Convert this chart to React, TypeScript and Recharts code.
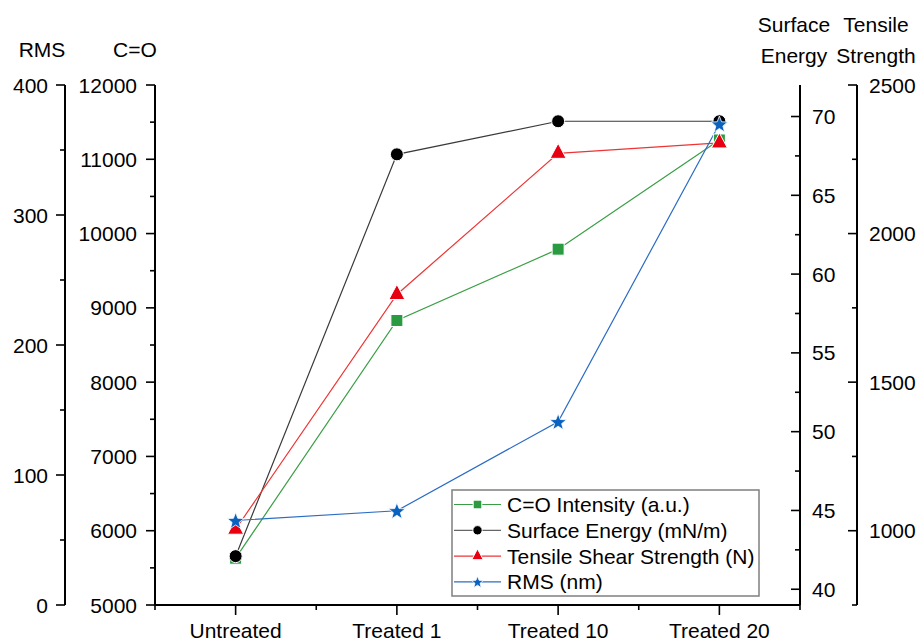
import React from 'react';
import { LineChart, Line, XAxis, YAxis, Legend } from 'recharts';

// ---- data ----
const categories = ['Untreated', 'Treated 1', 'Treated 10', 'Treated 20'];
const coIntensity = [5630, 8830, 9790, 11260];
const surfaceEnergy = [42.1, 67.6, 69.7, 69.7];
const tensileStrength = [1005, 1795, 2270, 2305];
const rmsValues = [65, 72.5, 141, 370];

// tick positions (majors get a label, the rest are minor ticks)
const xTicks = [0, 0.5, 1, 1.5, 2, 2.5, 3, 3.5, 4];
const rmsTicks = [0, 50, 100, 150, 200, 250, 300, 350, 400];
const coTicks = [5000, 5500, 6000, 6500, 7000, 7500, 8000, 8500, 9000, 9500, 10000, 10500, 11000, 11500, 12000];
const seTicks = [40, 42.5, 45, 47.5, 50, 52.5, 55, 57.5, 60, 62.5, 65, 67.5, 70];
const tsTicks = [750, 1000, 1250, 1500, 1750, 2000, 2250, 2500];

const FONT = "'Liberation Sans', Arial, sans-serif";
const FONT_SIZE = 21;

const SERIES = [
  { key: 'co', name: 'C=O Intensity (a.u.)', axis: 'a_co', line: '#3a9e45', fill: '#2b9b42', shape: 'square' },
  { key: 'se', name: 'Surface Energy (mN/m)', axis: 'c_se', line: '#3a3a3a', fill: '#000000', shape: 'circle' },
  { key: 'ts', name: 'Tensile Shear Strength (N)', axis: 'd_ts', line: '#ee3434', fill: '#e60012', shape: 'triangle' },
  { key: 'rms', name: 'RMS (nm)', axis: 'b_rms', line: '#2b6cc4', fill: '#0a62c0', shape: 'star' },
];

const chartData = categories.map((name, i) => ({
  name,
  x: i + 0.5,
  co: coIntensity[i],
  se: surfaceEnergy[i],
  ts: tensileStrength[i],
  rms: rmsValues[i],
}));

// ---- markers ----
function Marker({ cx, cy, shape, color, scale = 1 }: any) {
  if (cx == null || cy == null) return null;
  const s = scale;
  if (shape === 'square') {
    const h = 6 * s;
    return <rect x={cx - h} y={cy - h} width={2 * h} height={2 * h} fill={color} stroke="#fff" strokeWidth={1} />;
  }
  if (shape === 'circle') {
    return <circle cx={cx} cy={cy} r={6.5 * s} fill={color} stroke="#fff" strokeWidth={1} />;
  }
  if (shape === 'triangle') {
    const pts = `${cx},${cy - 10 * s} ${cx + 8 * s},${cy + 5 * s} ${cx - 8 * s},${cy + 5 * s}`;
    return <polygon points={pts} fill={color} stroke="#fff" strokeWidth={1} />;
  }
  // star
  const outer = 8.8 * s;
  const inner = 3.7 * s;
  const pts: string[] = [];
  for (let k = 0; k < 10; k++) {
    const r = k % 2 === 0 ? outer : inner;
    const a = -Math.PI / 2 + (k * Math.PI) / 5;
    pts.push(`${cx + r * Math.cos(a)},${cy + 0.8 * s + r * Math.sin(a)}`);
  }
  return <polygon points={pts.join(' ')} fill={color} stroke="#fff" strokeWidth={0.8} />;
}

const dotRenderer = (shape: string, color: string) => (props: any) => (
  <Marker key={`${shape}-${props.index}`} cx={props.cx} cy={props.cy} shape={shape} color={color} />
);

// ---- ticks ----
function YTick({ x, y, payload, major, labelSide, labelGap }: any) {
  const isMajor = Math.abs(payload.value % major) < 1e-9;
  const len = isMajor ? 9 : 5;
  return (
    <g>
      <line x1={x - len} y1={y} x2={x} y2={y} stroke="#000" strokeWidth={1.6} />
      {isMajor && (
        <text
          x={labelSide === 'left' ? x - labelGap : x + labelGap}
          y={y}
          dy="0.36em"
          textAnchor={labelSide === 'left' ? 'end' : 'start'}
          fontFamily={FONT}
          fontSize={FONT_SIZE}
          fill="#000"
        >
          {payload.value}
        </text>
      )}
    </g>
  );
}

function XTick({ x, y, payload }: any) {
  const isMajor = payload.value % 1 !== 0;
  return (
    <g>
      <line x1={x} y1={y} x2={x} y2={y + (isMajor ? 10 : 5)} stroke="#000" strokeWidth={1.6} />
      {isMajor && (
        <text x={x} y={y + 33} textAnchor="middle" fontFamily={FONT} fontSize={FONT_SIZE} fill="#000">
          {categories[Math.floor(payload.value)]}
        </text>
      )}
    </g>
  );
}

// axis titles sit above the axes
const titleLabel = (lines: string[], dx: number, baseOffsets: number[]) => ({ viewBox }: any) => (
  <g>
    {lines.map((t, i) => (
      <text
        key={t}
        x={viewBox.x + dx}
        y={viewBox.y - baseOffsets[i]}
        textAnchor="middle"
        fontFamily={FONT}
        fontSize={FONT_SIZE}
        fill="#000"
      >
        {t}
      </text>
    ))}
  </g>
);

function LegendBox() {
  return (
    <svg width={310} height={109} style={{ display: 'block' }}>
      <rect x={1} y={1} width={307} height={106} fill="#fff" stroke="#7f7f7f" strokeWidth={1.5} />
      {SERIES.map((s, i) => {
        const cy = 15.5 + i * 25.8;
        return (
          <g key={s.key}>
            <line x1={3} y1={cy} x2={50} y2={cy} stroke={s.key === 'se' ? '#666' : s.line} strokeWidth={1.2} />
            <Marker cx={26.5} cy={cy} shape={s.shape} color={s.fill} scale={0.72} />
            <text x={56} y={cy} dy="0.36em" fontFamily={FONT} fontSize={FONT_SIZE} fill="#000">
              {s.name}
            </text>
          </g>
        );
      })}
    </svg>
  );
}

const axisLine = { stroke: '#000', strokeWidth: 2 };

export default function App() {
  return (
    <div style={{ position: 'absolute', left: 0, top: 0, width: 921, height: 641, background: '#fff' }}>
      <style>{'body{margin:0}'}</style>
      <LineChart width={921} height={641} data={chartData} margin={{ top: 85, right: 0, bottom: 0, left: 0 }}>
        <XAxis
          dataKey="x"
          type="number"
          domain={[0, 4]}
          ticks={xTicks}
          interval={0}
          height={36}
          tickSize={0}
          tickMargin={0}
          tickLine={false}
          axisLine={axisLine}
          tick={(p: any) => <XTick {...p} />}
        />
        <YAxis
          yAxisId="a_co"
          orientation="left"
          type="number"
          domain={[5000, 12000]}
          ticks={coTicks}
          interval={0}
          width={90}
          tickSize={0}
          tickMargin={0}
          tickLine={false}
          axisLine={axisLine}
          allowDataOverflow
          tick={(p: any) => <YTick {...p} major={1000} labelSide="left" labelGap={18} />}
          label={{ content: titleLabel(['C=O'], 70, [28]) }}
        />
        <YAxis
          yAxisId="b_rms"
          orientation="left"
          type="number"
          domain={[0, 400]}
          ticks={rmsTicks}
          interval={0}
          width={65}
          tickSize={0}
          tickMargin={0}
          tickLine={false}
          axisLine={axisLine}
          allowDataOverflow
          tick={(p: any) => <YTick {...p} major={100} labelSide="left" labelGap={17} />}
          label={{ content: titleLabel(['RMS'], 42, [28]) }}
        />
        <YAxis
          yAxisId="c_se"
          orientation="right"
          type="number"
          domain={[39, 72]}
          ticks={seTicks}
          interval={0}
          width={57}
          tickSize={0}
          tickMargin={0}
          tickLine={false}
          axisLine={axisLine}
          allowDataOverflow
          tick={(p: any) => <YTick {...p} major={5} labelSide="right" labelGap={12} />}
          label={{ content: titleLabel(['Surface', 'Energy'], -6, [53, 22]) }}
        />
        <YAxis
          yAxisId="d_ts"
          orientation="right"
          type="number"
          domain={[750, 2500]}
          ticks={tsTicks}
          interval={0}
          width={64}
          tickSize={0}
          tickMargin={0}
          tickLine={false}
          axisLine={axisLine}
          allowDataOverflow
          tick={(p: any) => <YTick {...p} major={500} labelSide="right" labelGap={12} />}
          label={{ content: titleLabel(['Tensile', 'Strength'], 19, [53, 22]) }}
        />
        {SERIES.map((s) => (
          <Line
            key={s.key}
            yAxisId={s.axis}
            dataKey={s.key}
            name={s.name}
            type="linear"
            stroke={s.line}
            strokeWidth={1.2}
            dot={dotRenderer(s.shape, s.fill)}
            activeDot={false}
            isAnimationActive={false}
          />
        ))}
        <Legend
          layout="vertical"
          align="center"
          verticalAlign="middle"
          content={() => <LegendBox />}
          wrapperStyle={{ left: 451, top: 489, width: 310, height: 109 }}
        />
      </LineChart>
    </div>
  );
}
